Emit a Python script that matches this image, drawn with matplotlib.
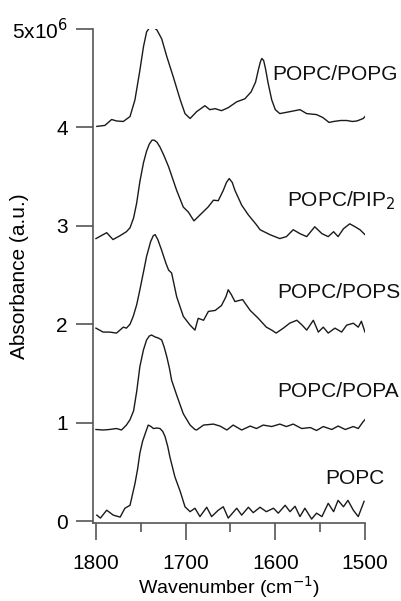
import matplotlib
matplotlib.use('Agg')
import matplotlib.pyplot as plt
from matplotlib.ticker import MultipleLocator

plt.rcParams['font.family'] = ['Liberation Sans', 'DejaVu Sans']

# Wavenumber / absorbance (in units of 1e6)
popg_wn = [1799, 1790, 1782.5, 1777, 1769.5, 1762, 1756.5, 1751, 1747, 1743.5, 1740.5, 1738, 1735, 1732,
           1726.7, 1721, 1714, 1706, 1700.7, 1695, 1687.7, 1678.5, 1673, 1667, 1660, 1652.5, 1643, 1634,
           1627, 1622, 1618.5, 1616.5, 1615, 1613, 1611, 1608, 1604, 1600, 1595, 1583.6, 1572.5, 1565,
           1554, 1547, 1540, 1535, 1527, 1520.5, 1514, 1509, 1502, 1500]
popg_abs = [4.01, 4.02, 4.08, 4.065, 4.06, 4.11, 4.28, 4.58, 4.82, 4.97, 5.01, 5.02, 5.01, 4.99,
            4.90, 4.72, 4.52, 4.28, 4.14, 4.09, 4.16, 4.22, 4.18, 4.19, 4.17, 4.20, 4.26, 4.29,
            4.36, 4.46, 4.60, 4.67, 4.70, 4.68, 4.60, 4.45, 4.28, 4.18, 4.14, 4.16, 4.18, 4.14,
            4.13, 4.10, 4.05, 4.06, 4.07, 4.07, 4.06, 4.065, 4.09, 4.11]

pip2_wn = [1800, 1794, 1788, 1781, 1773, 1766, 1762, 1758, 1754.6, 1751, 1747, 1743.5, 1740.5, 1737.5, 1735,
           1732, 1728.6, 1724, 1719, 1714.5, 1710, 1702.6, 1697, 1690.7, 1684, 1675, 1669, 1663.6, 1658,
           1654.5, 1651.4, 1648, 1645, 1637.5, 1630, 1621, 1617, 1606, 1595, 1587.6, 1580, 1572.5, 1565,
           1556, 1548, 1541, 1535, 1530, 1524, 1517, 1511, 1505.6, 1500]
pip2_abs = [2.87, 2.90, 2.93, 2.86, 2.90, 2.94, 2.98, 3.08, 3.23, 3.45, 3.64, 3.76, 3.83, 3.87, 3.87,
            3.85, 3.80, 3.71, 3.60, 3.48, 3.36, 3.19, 3.14, 3.05, 3.11, 3.19, 3.26, 3.255, 3.36,
            3.44, 3.48, 3.44, 3.36, 3.21, 3.11, 3.01, 2.96, 2.91, 2.87, 2.89, 2.96, 2.92, 2.89,
            2.99, 2.92, 2.89, 2.94, 2.89, 2.97, 3.02, 2.99, 2.96, 2.91]

pops_wn = [1800, 1792, 1785, 1777, 1769.5, 1766, 1762, 1758.4, 1754.5, 1751, 1747, 1743.5, 1739, 1736, 1734,
           1731, 1726.7, 1722, 1719, 1715.6, 1710, 1702.6, 1695, 1689.6, 1686, 1680, 1674.6, 1667, 1660,
           1655, 1652.5, 1649, 1645, 1636.5, 1628, 1619, 1610, 1604, 1599, 1591, 1584, 1576, 1570, 1565,
           1557.6, 1552, 1546.5, 1541, 1533.5, 1526, 1520.5, 1513, 1507.5, 1504, 1500]
pops_abs = [1.96, 1.92, 1.92, 1.91, 1.97, 1.96, 2.00, 2.08, 2.20, 2.35, 2.53, 2.69, 2.84, 2.90, 2.91,
            2.86, 2.75, 2.62, 2.55, 2.52, 2.28, 2.08, 1.99, 1.94, 2.06, 2.04, 2.13, 2.14, 2.19,
            2.28, 2.35, 2.30, 2.23, 2.25, 2.14, 2.06, 1.97, 1.94, 1.91, 1.96, 2.01, 2.04, 1.99, 1.94,
            2.04, 1.92, 1.97, 1.91, 1.96, 1.92, 1.99, 2.01, 1.97, 2.03, 1.92]

popa_wn = [1800, 1792, 1785, 1777, 1771.5, 1766, 1762, 1758, 1754.5, 1751, 1747, 1743.5, 1740.5, 1738,
           1734, 1730.5, 1726.7, 1724, 1721, 1718, 1715.6, 1710, 1702.6, 1695, 1689.6, 1687.7, 1680, 1669,
           1661.7, 1654, 1647, 1637.5, 1628, 1621, 1613.5, 1604, 1595, 1587.6, 1580, 1570.6, 1561, 1554,
           1546.5, 1537, 1530, 1522, 1513, 1507.5, 1502, 1500]
popa_abs = [0.93, 0.925, 0.93, 0.94, 0.925, 0.975, 1.03, 1.12, 1.32, 1.57, 1.74, 1.84, 1.88, 1.89,
            1.87, 1.86, 1.84, 1.77, 1.67, 1.55, 1.43, 1.28, 1.09, 0.975, 0.93, 0.925, 0.975, 0.985,
            0.965, 0.925, 0.975, 0.925, 0.965, 0.94, 0.975, 0.96, 0.985, 0.96, 0.985, 0.94, 0.95, 0.92,
            0.96, 0.93, 0.965, 0.93, 0.96, 0.94, 1.01, 1.03]

popc_wn = [1799, 1795, 1788, 1780.7, 1773, 1767.7, 1762, 1756.5, 1753.5, 1751, 1748, 1745, 1741.7, 1738.5,
           1736, 1732, 1728.6, 1725.5, 1723, 1720, 1717.5, 1712, 1706, 1700.7, 1695, 1689.6, 1684, 1676.5,
           1671, 1663.6, 1658, 1652.5, 1643, 1637.5, 1630, 1624.6, 1617, 1610, 1602, 1596.7, 1589, 1583.6,
           1578, 1572.5, 1567, 1559.5, 1554, 1548, 1541, 1535, 1530, 1524, 1519, 1513, 1507.5, 1501]
popc_abs = [0.06, 0.03, 0.11, 0.06, 0.04, 0.13, 0.16, 0.38, 0.53, 0.69, 0.81, 0.89, 0.975, 0.96,
            0.94, 0.945, 0.94, 0.91, 0.86, 0.76, 0.65, 0.45, 0.30, 0.145, 0.095, 0.13, 0.045, 0.14,
            0.045, 0.11, 0.145, 0.03, 0.13, 0.06, 0.14, 0.085, 0.14, 0.095, 0.13, 0.08, 0.16, 0.095,
            0.15, 0.045, 0.13, 0.02, 0.08, 0.045, 0.18, 0.095, 0.21, 0.145, 0.21, 0.11, 0.045, 0.20]

labels = ['POPC/POPG', 'POPC/PIP$_2$', 'POPC/POPS', 'POPC/POPA', 'POPC']
label_wn = [1603, 1587, 1597.4, 1597.4, 1544.6]
label_abs = [4.54, 3.26, 2.32, 1.32, 0.43]

fig = plt.figure(figsize=(4.02, 6.01), dpi=100)
ax = fig.add_axes([0.2313, 0.1298, 0.6766, 0.822])

for wn, ab in [(popg_wn, popg_abs), (pip2_wn, pip2_abs), (pops_wn, pops_abs),
               (popa_wn, popa_abs), (popc_wn, popc_abs)]:
    ax.plot(wn, ab, color='#1a1a1a', linewidth=1.0, solid_joinstyle='round')

for txt, x, y in zip(labels, label_wn, label_abs):
    ax.text(x, y, txt, fontsize=15, ha='left', va='center', color='#111111')

ax.set_xlim(1803.3, 1500)
ax.set_ylim(-0.02, 5)
ax.set_yticks([0, 1, 2, 3, 4, 5])
ax.set_yticklabels(['0', '1', '2', '3', '4', r'5x10$^{6}$'])
ax.set_xticks([1800, 1700, 1600, 1500])
ax.xaxis.set_minor_locator(MultipleLocator(50))

for side in ['top', 'right']:
    ax.spines[side].set_visible(False)
for side in ['left', 'bottom']:
    ax.spines[side].set_color('#555555')
    ax.spines[side].set_linewidth(1.2)

ax.tick_params(axis='both', which='major', direction='out', length=12, width=1.2,
               color='#555555', labelsize=15, pad=6)
ax.tick_params(axis='x', which='major', pad=10)
ax.tick_params(axis='x', which='minor', direction='out', length=6.5, width=1.2, color='#555555')

ax.set_xlabel('Wavenumber (cm$^{-1}$)', fontsize=14)
ax.set_ylabel('Absorbance (a.u.)', fontsize=15)
ax.xaxis.set_label_coords(0.5, -0.103)
ax.yaxis.set_label_coords(-0.235, 0.5)

fig.savefig('out.png', dpi=100)
